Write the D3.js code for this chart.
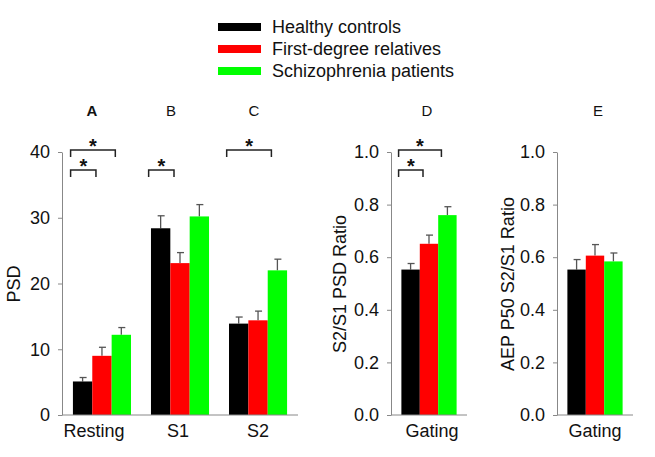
<!DOCTYPE html>
<html lang="en">
<head>
<meta charset="UTF-8">
<title>PSD and gating by group</title>
<script src="https://d3js.org/d3.v7.min.js"></script>
<style>
  body { margin: 0; background: #fff; }
  text { font-family: "Liberation Sans", Arial, sans-serif; fill: #111; }
</style>
</head>
<body>
<svg id="chart" width="655" height="457"></svg>
<script>
// groups and colours
const groups = ["Healthy controls", "First-degree relatives", "Schizophrenia patients"];
const groupColors = ["#000000", "#ff0000", "#00ff00"];

// panels A-C : PSD
const psdConditions = ["Resting", "S1", "S2"];
const psdMeans = [[5.1, 9.0, 12.2], [28.4, 23.1, 30.2], [13.9, 14.4, 22.0]];
const psdSem = [[0.6, 1.3, 1.1], [1.9, 1.6, 1.8], [1.0, 1.4, 1.7]];
const psdTicks = [0, 10, 20, 30, 40];

// panel D : S2/S1 PSD ratio
const gatingD = [0.553, 0.651, 0.760];
const gatingDSem = [0.023, 0.033, 0.032];
// panel E : AEP P50 S2/S1 ratio
const gatingE = [0.553, 0.606, 0.584];
const gatingESem = [0.038, 0.042, 0.032];
const ratioTicks = [0.0, 0.2, 0.4, 0.6, 0.8, 1.0];

// significance brackets: [condition, from group, to group, level]
const psdSig = [["Resting", 0, 1, 0], ["Resting", 0, 2, 1], ["S1", 0, 1, 0], ["S2", 0, 2, 1]];
const dSig = [["Gating", 0, 1, 0], ["Gating", 0, 2, 1]];

const svg = d3.select("#chart");
const yTop = 152, yBottom = 415;

// legend
const legend = svg.append("g");
groups.forEach(function(g, i) {
    legend.append("rect")
        .attr("x", 218).attr("y", 23 + i * 22)
        .attr("width", 43).attr("height", 8)
        .attr("fill", groupColors[i]);
    legend.append("text")
        .attr("x", 272).attr("y", 33 + i * 22)
        .style("font-size", "18px")
        .text(g);
});

function drawPanel(cfg) {
    const g = svg.append("g");
    const y = d3.scaleLinear().domain(cfg.domain).range([yBottom, yTop]);
    const x = d3.scaleBand().domain(cfg.conditions)
        .range([cfg.x0, cfg.x1]).paddingInner(0.256).paddingOuter(0.14);
    const xs = d3.scaleBand().domain(d3.range(groups.length))
        .range([0, x.bandwidth()]);

    // y axis
    const yAxis = g.append("g")
        .attr("transform", "translate(" + cfg.x0 + ",0)")
        .call(d3.axisLeft(y).tickValues(cfg.ticks).tickFormat(cfg.fmt)
            .tickSize(4).tickSizeOuter(0).tickPadding(8));
    yAxis.select(".domain").attr("stroke", "#888");
    yAxis.selectAll(".tick line").attr("stroke", "#888");
    yAxis.selectAll(".tick text")
        .style("font-size", "18px").style("font-family", "Liberation Sans, Arial, sans-serif")
        .attr("fill", "#111");

    // bars
    cfg.conditions.forEach(function(c, ci) {
        cfg.means[ci].forEach(function(v, gi) {
            const bx = x(c) + xs(gi);
            const cx = bx + xs.bandwidth() / 2;
            const top = y(v + cfg.sem[ci][gi]);
            g.append("line")
                .attr("x1", cx).attr("x2", cx)
                .attr("y1", y(v)).attr("y2", top)
                .attr("stroke", "#555").attr("stroke-width", 1.3);
            g.append("line")
                .attr("x1", cx - 3).attr("x2", cx + 4)
                .attr("y1", top).attr("y2", top)
                .attr("stroke", "#555").attr("stroke-width", 1.3);
            g.append("rect")
                .attr("x", bx).attr("y", y(v))
                .attr("width", xs.bandwidth()).attr("height", y(0) - y(v))
                .attr("fill", groupColors[gi]);
        });
        g.append("text")
            .attr("x", x(c) + x.bandwidth() / 2 + (cfg.labelDx ? cfg.labelDx[ci] : 0))
            .attr("y", 437)
            .attr("text-anchor", "middle")
            .style("font-size", "18px")
            .text(c);
    });

    // x axis line
    g.append("line")
        .attr("x1", cfg.x0).attr("x2", cfg.x1)
        .attr("y1", y(0)).attr("y2", y(0))
        .attr("stroke", "#888");

    // y label
    g.append("text")
        .attr("transform", "translate(" + cfg.labelX + ",284) rotate(-90)")
        .attr("text-anchor", "middle")
        .attr("dy", "0.35em")
        .style("font-size", "18px")
        .text(cfg.label);

    // significance brackets
    cfg.sig.forEach(function(s) {
        const by = s[3] === 0 ? 170 : 150;
        const xa = x(s[0]) + xs(s[1]) + xs.bandwidth() / 2 - 12;
        const xb = x(s[0]) + xs(s[2]) + xs.bandwidth() / 2 - 6;
        g.append("path")
            .attr("d", "M" + xa + "," + (by + 7) + "V" + by + "H" + xb + "V" + (by + 7))
            .attr("fill", "none").attr("stroke", "#222").attr("stroke-width", 1.5);
        g.append("text")
            .attr("x", (xa + xb) / 2).attr("y", by + 3)
            .attr("text-anchor", "middle")
            .style("font-size", "20px").style("font-weight", "bold")
            .text("*");
    });
}

drawPanel({conditions: psdConditions, means: psdMeans, sem: psdSem, domain: [0, 40],
    ticks: psdTicks, fmt: d3.format("d"), x0: 62, x1: 298, label: "PSD", labelX: 14,
    sig: psdSig, labelDx: [-8, -2, 0]});
drawPanel({conditions: ["Gating"], means: [gatingD], sem: [gatingDSem], domain: [0, 1],
    ticks: ratioTicks, fmt: d3.format(".1f"), x0: 391, x1: 467, label: "S2/S1 PSD Ratio", labelX: 340,
    sig: dSig, labelDx: [3]});
drawPanel({conditions: ["Gating"], means: [gatingE], sem: [gatingESem], domain: [0, 1],
    ticks: ratioTicks, fmt: d3.format(".1f"), x0: 557, x1: 633, label: "AEP P50 S2/S1 Ratio", labelX: 508,
    sig: []});

// panel letters
const panelLetters = ["A", "B", "C", "D", "E"];
const letterX = [92, 171, 254, 427, 598];
panelLetters.forEach(function(l, i) {
    svg.append("text")
        .attr("x", letterX[i]).attr("y", 116)
        .attr("text-anchor", "middle")
        .style("font-size", "15px")
        .style("font-weight", i === 0 ? "bold" : "normal")
        .text(l);
});
</script>
</body>
</html>
